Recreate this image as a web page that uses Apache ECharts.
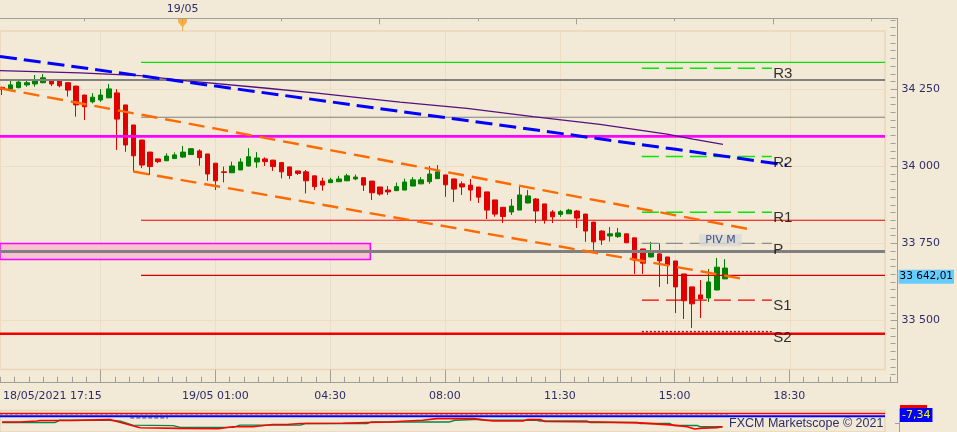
<!DOCTYPE html>
<html><head><meta charset="utf-8">
<script src="https://cdn.jsdelivr.net/npm/echarts@6/dist/echarts.min.js"></script>
<style>html,body{margin:0;padding:0;background:#F2E9D6;}#c{width:957px;height:432px;}</style>
</head><body><div id="c"></div>
<script>
// ---------------- data ----------------
// bar index: 15-minute bars, 0 = 19/05 01:00
const firstBar = -26;
const opens = [34256,34251,34255,34264,34267,34271,34277,34277,34271,34260,
  34231,34209,34215,34222,34238,34199,34134,34085,34046,34024,
  34018,34025,34030,34038,34050,34040,34010,33982,33979,33988,
  34001,34014,34024,34020,34012,33998,33985,33982,33969,33952,
  33947,33950,33953,33959,33963,33952,33933,33923,33921,33923,
  33936,33943,33950,33960,33972,33959,33943,33939,33933,33917,
  33891,33867,33852,33858,33881,33894,33878,33852,33844,33846,
  33855,33845,33819,33790,33774,33772,33781,33768,33732,33706,
  33716,33706,33693,33651,33609,33583,33573,33599,33635];
const closes = [34249,34264,34273,34271,34278,34287,34267,34261,34247,34199,
  34193,34224,34231,34251,34153,34069,34034,34004,33999,34015,
  34033,34037,34046,34057,34028,33975,33953,33980,34001,34014,
  34031,34027,34015,33999,33982,33970,33977,33953,33934,33939,
  33956,33959,33969,33965,33939,33914,33910,33917,33934,33949,
  33956,33956,33975,33982,33940,33926,33933,33923,33900,33858,
  33845,33837,33871,33907,33904,33855,33826,33836,33853,33858,
  33832,33790,33755,33761,33781,33784,33752,33696,33686,33722,
  33693,33680,33609,33564,33554,33570,33625,33673,33670];
const lows = [34231,34248,34253,34258,34258,34269,34260,34256,34226,34161,
  34150,34204,34209,34221,34053,34047,33983,33994,33972,34010,
  34017,34024,34028,34037,34002,33953,33923,33948,33979,33988,
  33999,33995,34001,33985,33961,33959,33972,33912,33923,33921,
  33946,33950,33953,33955,33920,33891,33905,33907,33920,33922,
  33935,33942,33943,33959,33901,33884,33907,33888,33881,33829,
  33837,33816,33842,33858,33880,33816,33814,33816,33836,33846,
  33800,33755,33729,33745,33756,33768,33751,33651,33651,33705,
  33609,33618,33524,33505,33476,33508,33560,33598,33634];
const highs = [34258,34277,34277,34278,34296,34299,34278,34278,34272,34261,
  34232,34237,34250,34267,34250,34199,34134,34086,34047,34024,
  34042,34045,34066,34059,34055,34040,34010,33999,34015,34026,
  34059,34046,34029,34021,34012,33998,33985,33988,33969,33963,
  33963,33969,33976,33973,33964,33953,33933,33936,33947,33960,
  33965,33965,34001,34004,33972,33959,33951,33959,33933,33917,
  33891,33868,33894,33934,33923,33897,33878,33858,33858,33862,
  33858,33846,33820,33793,33803,33800,33781,33768,33732,33755,
  33750,33706,33693,33651,33609,33631,33667,33703,33699];

const xTickBars = [-14, 0, 14, 28, 42, 56, 70];
const xTickLabels = ['21:30', '19/05 01:00', '04:30', '08:00', '11:30', '15:00', '18:30'];
const firstLabel = '18/05/2021 17:15';
const firstLabelBar = -19.87;
const topTickBars = [-16, 8, 32, 56, 80];
const topLongTickBars = [-4, 20, 44, 68];
const dayMarkBar = -4;
const dayMarkLabel = '19/05';
const yTicks = [33500, 33750, 34000, 34250];
const lastPrice = 33642.01;

const fullLevels = [34280, 34097, 33724, 33457];
const thinLevels = [34337, 34159, 33825, 33646];
const thinFromBar = -9.09;
const pivotNames = ['R3', 'R2', 'R1', 'P', 'S1', 'S2'];
const pivotValues = [34318, 34032, 33851, 33750, 33566, 33464];
const pivotFromBar = 51.88, pivotToBar = 67.7, pivotLabelBar = 67.88;
const pivLabel = 'PIV M';
const pivLabelPoint = [61.45, 33760];
const zoneLow = 33698, zoneHigh = 33750, zoneEndBar = 18.82;

const blueLine = [[-26.26, 34356], [0, 34260], [28, 34158], [56, 34055], [69.5, 34004]];
const purpleLine = [[-26.26, 34310], [-16.52, 34303], [-9.22, 34294], [-3.49, 34277], [6.25, 34253],
  [12.33, 34237], [22.44, 34208], [30.59, 34188], [38.63, 34161], [46.78, 34136], [54.94, 34104],
  [58.11, 34088], [61.76, 34071]];
const orangeUpper = [[-26.26, 34253], [0, 34122], [28, 33982], [56, 33841], [64.8, 33797]];
const orangeLower = [[-10.03, 33983], [0, 33936], [28, 33805], [56, 33674], [64.8, 33632]];

// oscillator panel
const oscZero = 0;
const oscSignal = -7.34;
const oscDots = -2.4;
const redOsc = [[-26,-22.8],[-23.8,-22.8],[-23.6,-20.2],[-21.8,-20.2],[-21.4,-19.1],[-17.7,-19.1],
  [-17.5,-16.5],[-12.9,-16.5],[-9.2,-38.5],[-4.3,-40.1],[0.3,-41.1],[2.1,-35.9],[4.5,-35.9],
  [6.95,-29.6],[8.7,-29.6],[10.3,-27.0],[15.5,-26.2],[18.4,-24.4],[21.2,-22.8],[23.3,-20.2],
  [25.2,-18.3],[26.9,-13.9],[31.5,-13.9],[32.2,-16.5],[33.8,-20.2],[37.4,-20.2],[38.0,-16.5],
  [39.5,-16.5],[40.1,-21.7],[46.8,-22.8],[51.7,-25.4],[55.7,-31.4],[57.4,-35.9],[58.3,-41.9],
  [59.3,-39.3],[61.0,-38.0],[61.7,-35.9]];
const greenOsc = [[-26,-24.4],[-19.6,-24.4],[-19.0,-18.3],[-12.9,-18.3],[-11.6,-21.0],[-10.1,-31.4],
  [-5.2,-32.8],[-4.3,-37.5],[2.1,-37.5],[2.96,-31.4],[10.3,-31.4],[10.9,-27.0],[18.4,-27.0],
  [19.0,-22.8],[28.5,-22.8],[29.1,-18.3],[32.2,-15.7],[33.0,-18.3],[39.1,-18.3],[39.5,-20.2],
  [45.2,-20.2],[45.6,-24.4],[51.3,-24.4],[51.7,-27.0],[55.3,-27.0],[55.7,-32.2],[58.6,-32.2],
  [59.0,-35.9],[61.7,-35.9]];
const oscDashSeg = [[-10.4, -11.8], [-5.8, -11.8]];
const oscTick = [-27];
const credit = 'FXCM Marketscope © 2021';

// ---------------- layout / style ----------------
const X0 = -26.26, XA = 81.48, XB = 83.19;
const YA = [33341.1, 34438.7], YB = [33298.3, 34479.9];
const OSC = [-49.78, 7.86];
const AX = '#A39F97', GRIDC = '#ECDDC4', FRAME = '#EAD6B6', TXT = '#2E2E68';
const FONT = 'DejaVu Sans';

function thou(v) { return String(Math.round(v)).replace(/\B(?=(\d{3})+(?!\d))/g, ' '); }
function dec(v) {
  const s = Math.abs(v).toFixed(2).split('.');
  return (v < 0 ? '-' : '') + thou(+s[0]) + ',' + s[1];
}
const minorBars = []; for (let k = -15; k <= 47; k++) minorBars.push(k * 1.75);
const minorY = []; for (let v = 33300; v <= 34475; v += 25) minorY.push(v);
const xLabelValues = [firstLabelBar].concat(xTickBars.slice(1));

function hline(v, x0, x1, color, width, type, z) {
  return { type: 'line', xAxisIndex: 0, yAxisIndex: 0, data: [[x0, v], [x1, v]], symbol: 'none',
    silent: true, z: z || 3, lineStyle: { color: color, width: width, type: type || 'solid' } };
}
function polyline(pts, color, width, type, xi, yi, z) {
  return { type: 'line', xAxisIndex: xi || 0, yAxisIndex: yi || 0, data: pts, symbol: 'none',
    silent: true, z: z || 4, lineStyle: { color: color, width: width, type: type || 'solid' } };
}

const series = [];
// zone
series.push({ type: 'line', xAxisIndex: 0, yAxisIndex: 0, data: [], silent: true, z: 1,
  markArea: { silent: true, itemStyle: { color: '#F8C2D3', borderColor: '#FF00FF', borderWidth: 1.5 },
    data: [[{ coord: [X0, zoneHigh] }, { coord: [zoneEndBar, zoneLow] }]] } });
// candles
series.push({ type: 'candlestick', xAxisIndex: 0, yAxisIndex: 0, z: 2, silent: true, barWidth: 5,
  encode: { x: 0, y: [1, 2, 3, 4] },
  data: opens.map((o, i) => [firstBar + i, o, closes[i], lows[i], highs[i]]),
  itemStyle: { color: '#008000', color0: '#E00000', borderColor: '#008000', borderColor0: '#E00000', borderWidth: 1 } });
// full-width levels
const fullStyles = [['#808080', 2], ['#FF00FF', 2.6], ['#808080', 3], ['#F00000', 2.4]];
fullLevels.forEach((v, i) => series.push(hline(v, X0, XA, fullStyles[i][0], fullStyles[i][1])));
const thinColors = ['#00E600', '#808080', '#F00000', '#D00000'];
thinLevels.forEach((v, i) => series.push(hline(v, thinFromBar, XA, thinColors[i], 1.2)));
const pivColors = ['#00E600', '#00E600', '#00E600', '#8C8C8C', '#F00000', '#7A1A1A'];
pivotValues.forEach((v, i) => series.push(hline(v, pivotFromBar, pivotToBar, pivColors[i], 1.4,
  i === 5 ? [2, 2] : [17, 7])));
// pivot names
series.push({ type: 'scatter', xAxisIndex: 0, yAxisIndex: 0, silent: true, z: 6, symbolSize: 0,
  data: pivotValues.map((v, i) => ({ value: [pivotLabelBar, v], name: pivotNames[i] })),
  label: { show: true, formatter: p => p.name, position: [0, -1.5], align: 'left', verticalAlign: 'top',
    fontFamily: 'Liberation Sans', fontSize: 15, color: '#000' } });
// moving lines
series.push(polyline(purpleLine, '#55107F', 1.3));
series.push(polyline(blueLine, '#0000FF', 3, [17, 7]));
series.push(polyline(orangeUpper, '#FF6A00', 2.4, [16, 8]));
series.push(polyline(orangeLower, '#FF6A00', 2.4, [16, 8]));
// PIV M label
series.push({ type: 'scatter', xAxisIndex: 0, yAxisIndex: 0, silent: true, z: 7, symbolSize: 0,
  data: [pivLabelPoint],
  label: { show: true, formatter: pivLabel, position: [0, 0], align: 'center', verticalAlign: 'middle',
    fontFamily: FONT, fontSize: 11, color: '#1A2A6A', backgroundColor: '#D8D8D6',
    padding: [1, 6, 0, 6], borderRadius: 1 } });
// day marker
series.push({ type: 'scatter', xAxisIndex: 1, yAxisIndex: 1, silent: true, z: 8,
  data: [[dayMarkBar, 34458]], symbol: 'path://M0,0H9V3L5,8V12H4V8L0,3Z', symbolSize: [9, 12],
  itemStyle: { color: '#F5A21E' } });
// oscillator
series.push({ type: 'line', xAxisIndex: 5, yAxisIndex: 4, data: [[X0, oscDots], [62.5, oscDots]], symbol: 'none', silent: true, z: 2,
  lineStyle: { color: '#A8A8A8', width: 1.5, type: [3, 2] } });
series.push(polyline(oscDashSeg, '#8A8A8A', 2, [4, 2], 5, 4, 3));
series.push({ type: 'line', xAxisIndex: 5, yAxisIndex: 4, data: [[X0, oscZero], [XA, oscZero]], symbol: 'none', silent: true, z: 4,
  lineStyle: { color: '#FF0000', width: 1.6 } });
series.push({ type: 'line', xAxisIndex: 5, yAxisIndex: 4, data: [[X0, oscSignal], [XA, oscSignal]], symbol: 'none', silent: true, z: 4,
  lineStyle: { color: '#0000FF', width: 2 } });
series.push(polyline(greenOsc, '#00874A', 1.4, 'solid', 5, 4, 5));
series.push(polyline(redOsc, '#FF0000', 1.6, 'solid', 5, 4, 6));

const hiddenAxis = { axisLine: { show: false, onZero: false }, axisTick: { show: false }, axisLabel: { show: false }, splitLine: { show: false } };

const option = {
  backgroundColor: '#F2E9D6',
  animation: false,
  textStyle: { fontFamily: FONT },
  title: { text: credit, left: 729, top: 417, padding: 0,
    textStyle: { fontFamily: 'Liberation Sans', fontSize: 12.5, fontWeight: 'normal', color: TXT } },
  grid: [
    { left: 0, top: 31, width: 885, height: 338.5, show: true, borderColor: FRAME, borderWidth: 1.5 },
    { left: 0, top: 18.3, width: 899, height: 364.4 },
    { left: 0, top: 410.5, width: 885, height: 22, show: true, borderColor: FRAME, borderWidth: 1.5 },
    { left: 0, top: 409, width: 899, height: 23 }
  ],
  xAxis: [
    Object.assign({}, hiddenAxis, { gridIndex: 0, type: 'value', min: X0, max: XA,
      axisTick: { show: false, customValues: xTickBars },
      splitLine: { show: true, lineStyle: { color: GRIDC, width: 1 } } }),
    { gridIndex: 1, type: 'value', position: 'bottom', min: X0, max: XB,
      axisLine: { show: true, onZero: false, lineStyle: { color: AX, width: 1 } },
      axisTick: { show: true, inside: true, length: 13, customValues: xTickBars, lineStyle: { color: AX } },
      axisLabel: { show: true, customValues: xLabelValues, margin: 8, fontSize: 11, color: TXT, fontFamily: FONT,
        formatter: v => Math.abs(v - firstLabelBar) < 0.01 ? firstLabel : xTickLabels[xTickBars.indexOf(Math.round(v))] },
      splitLine: { show: false } },
    Object.assign({}, hiddenAxis, { gridIndex: 1, type: 'value', position: 'bottom', min: X0, max: XB,
      axisTick: { show: true, inside: true, length: 6, customValues: minorBars, lineStyle: { color: AX } } }),
    { gridIndex: 1, type: 'value', position: 'top', min: X0, max: XB,
      axisLine: { show: true, onZero: false, lineStyle: { color: AX, width: 1 } },
      axisTick: { show: true, inside: true, length: 3, customValues: topTickBars, lineStyle: { color: AX } },
      axisLabel: { show: true, customValues: [dayMarkBar], margin: 4, fontSize: 11, color: TXT, fontFamily: FONT,
        formatter: () => dayMarkLabel },
      splitLine: { show: false } },
    Object.assign({}, hiddenAxis, { gridIndex: 1, type: 'value', position: 'top', min: X0, max: XB,
      axisTick: { show: true, inside: true, length: 6, customValues: topLongTickBars, lineStyle: { color: AX } } }),
    Object.assign({}, hiddenAxis, { gridIndex: 2, type: 'value', min: X0, max: XA }),
    Object.assign({}, hiddenAxis, { gridIndex: 3, type: 'value', min: X0, max: XB })
  ],
  yAxis: [
    Object.assign({}, hiddenAxis, { gridIndex: 0, type: 'value', min: YA[0], max: YA[1],
      axisTick: { show: false, customValues: yTicks },
      splitLine: { show: true, lineStyle: { color: GRIDC, width: 1 } } }),
    { gridIndex: 1, type: 'value', position: 'right', min: YB[0], max: YB[1],
      axisLine: { show: true, onZero: false, lineStyle: { color: AX, width: 1 } },
      axisTick: { show: true, inside: true, length: 4, customValues: yTicks, lineStyle: { color: AX } },
      axisLabel: { show: true, customValues: yTicks, margin: 4, fontSize: 11, color: TXT, fontFamily: FONT, formatter: v => thou(v) },
      splitLine: { show: false } },
    Object.assign({}, hiddenAxis, { gridIndex: 1, type: 'value', position: 'right', offset: -2, min: YB[0], max: YB[1],
      axisTick: { show: true, inside: true, length: 5, customValues: minorY, lineStyle: { color: AX } } }),
    Object.assign({}, hiddenAxis, { gridIndex: 1, type: 'value', position: 'right', min: YB[0], max: YB[1],
      axisLabel: { show: true, customValues: [lastPrice], margin: 1, fontSize: 10.5, color: '#000', fontFamily: FONT,
        backgroundColor: '#66CCFF', padding: [2, 1, 1, 1], formatter: v => dec(v) } }),
    Object.assign({}, hiddenAxis, { gridIndex: 2, type: 'value', min: OSC[0], max: OSC[1] }),
    { gridIndex: 3, type: 'value', position: 'right', min: OSC[0], max: OSC[1],
      axisLine: { show: true, onZero: false, lineStyle: { color: AX, width: 1 } },
      axisTick: { show: true, inside: true, length: 4, customValues: oscTick, lineStyle: { color: AX } },
      axisLabel: { show: true, customValues: [oscSignal], margin: 1, fontSize: 11, color: '#FFFF00', fontFamily: FONT,
        backgroundColor: '#0000FF', padding: [2, 2, 1, 2], formatter: v => dec(v) },
      splitLine: { show: false } }
  ],
  graphic: [
    { type: 'rect', shape: { x: 900, y: 405, width: 27, height: 3 }, style: { fill: '#F00000' }, silent: true }
  ],
  series: series
};
const chart = echarts.init(document.getElementById('c'), null, { renderer: 'canvas', width: 957, height: 432 });
chart.setOption(option);
</script></body></html>
